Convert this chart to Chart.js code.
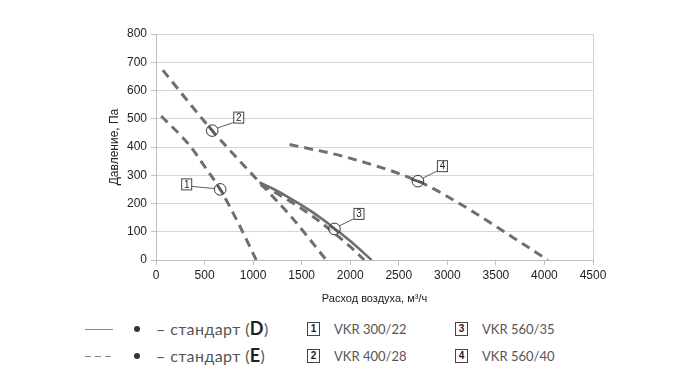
<!DOCTYPE html>
<html><head><meta charset="utf-8">
<script src="https://cdn.jsdelivr.net/npm/chart.js@4"></script>
<style>
html,body{margin:0;padding:0;background:#fff;width:700px;height:382px;overflow:hidden;font-family:"Liberation Sans",Arial,sans-serif;}
#wrap{position:absolute;left:0;top:0;width:700px;height:310px;}
.leg{position:absolute;font-family:Lato,"Noto Sans",sans-serif;color:#555;font-size:16px;white-space:nowrap;line-height:18px;}
.leg b{color:#222;font-size:18px;}
.box{position:absolute;width:11px;height:12px;border:1px solid #444;font-size:10px;line-height:12px;text-align:center;color:#222;font-family:"Liberation Sans",Arial,sans-serif;font-weight:bold;}
.ln{position:absolute;height:1px;width:28px;}
.dot{position:absolute;width:6px;height:6px;border-radius:3px;background:#333;}
</style></head><body>
<div id="wrap"><canvas id="c" width="700" height="310"></canvas></div>
<div id="legend"></div>
<script>
// ---- data ----
const curve1Q = [53, 345, 517, 661, 860, 1032];
const curve1P = [510, 406, 323, 250, 122, 0];
const curve2Q = [70, 579, 1066, 1400, 1753];
const curve2P = [672, 458, 275, 150, 0];
const curve3DQ = [1066, 1200, 1400, 1600, 1800, 2000, 2220];
const curve3DP = [275, 253, 215, 172, 122, 67, 0];
const curve3EQ = [1080, 1200, 1400, 1600, 1800, 2000, 2145];
const curve3EP = [265, 244, 204, 158, 105, 47, 0];
const curve4Q = [1375, 1959, 2697, 3160, 3675, 4035];
const curve4P = [409, 364, 279, 193, 80, 0];
const markerLabels = ['1', '2', '3', '4'];
const markerQ = [661, 579, 1838, 2697];
const markerP = [250, 458, 110, 279];
const xTicks = [0, 500, 1000, 1500, 2000, 2500, 3000, 3500, 4000, 4500];
const yTicks = [0, 100, 200, 300, 400, 500, 600, 700, 800];
const legendStd = ['стандарт (D)', 'стандарт (E)'];
const legendModels = ['VKR 300/22', 'VKR 400/28', 'VKR 560/35', 'VKR 560/40'];

const toPts = (q, p) => q.map((v, i) => ({x: v, y: p[i]}));
const lineCol = '#6f6f6f';
const dash = [9, 6];
function ds(q, p, dashed) {
  return {data: toPts(q, p), showLine: true, borderColor: lineCol, borderWidth: dashed ? 3 : 2.6,
    borderDash: dashed ? dash : [], pointRadius: 0, cubicInterpolationMode: 'monotone', fill: false};
}
const datasets = [ds(curve1Q, curve1P, true), ds(curve2Q, curve2P, true), ds(curve3DQ, curve3DP, false),
  ds(curve3EQ, curve3EP, true), ds(curve4Q, curve4P, true)];
const markerDs = [0, 1, 2, 4];
const boxOff = [[-34, -5], [26, -13], [24, -15], [24, -15]];

const markerPlugin = {
  id: 'markers',
  afterDatasetsDraw(chart) {
    const c = chart.ctx, xs = chart.scales.x, ys = chart.scales.y;
    markerQ.forEach((q, i) => {
      const px = xs.getPixelForValue(q), py = ys.getPixelForValue(markerP[i]);
      const d = chart.data.datasets[markerDs[i]].data;
      let k = 0; while (k < d.length - 2 && d[k + 1].x < q) k++;
      const ax = xs.getPixelForValue(d[k].x), ay = ys.getPixelForValue(d[k].y);
      const bx = xs.getPixelForValue(d[k + 1].x), by = ys.getPixelForValue(d[k + 1].y);
      const L = Math.hypot(bx - ax, by - ay), ux = (bx - ax) / L, uy = (by - ay) / L;
      c.save();
      c.beginPath(); c.arc(px, py, 5.8, 0, Math.PI * 2); c.fillStyle = 'rgba(255,255,255,0.6)'; c.fill();
      c.beginPath(); c.moveTo(px - ux * 5.5, py - uy * 5.5); c.lineTo(px + ux * 5.5, py + uy * 5.5);
      c.strokeStyle = '#555'; c.lineWidth = 2.6; c.stroke();
      c.beginPath(); c.arc(px, py, 5.8, 0, Math.PI * 2); c.strokeStyle = '#333'; c.lineWidth = 1; c.stroke();
      const bxc = px + boxOff[i][0], byc = py + boxOff[i][1];
      const dx = bxc - px, dy = byc - py, dl = Math.hypot(dx, dy);
      c.beginPath();
      c.moveTo(px + dx / dl * 6, py + dy / dl * 6);
      const ex = bxc + (dx > 0 ? -5 : 5), ey = byc + (dy < -8 ? 5 : 2);
      c.lineTo(ex, ey); c.strokeStyle = '#333'; c.lineWidth = 0.8; c.stroke();
      c.fillStyle = '#fff'; c.fillRect(bxc - 5, byc - 6, 10, 12);
      c.strokeStyle = '#444'; c.lineWidth = 1; c.strokeRect(bxc - 5 + 0.5, byc - 6 + 0.5, 10, 11);
      c.fillStyle = '#222'; c.font = '10px "Liberation Sans", Arial'; c.textAlign = 'center'; c.textBaseline = 'middle';
      c.fillText(markerLabels[i], bxc + 0.5, byc + 0.5);
      c.restore();
    });
  }
};

new Chart(document.getElementById('c'), {
  type: 'scatter',
  data: {datasets},
  options: {
    responsive: false, animation: false, devicePixelRatio: 1,
    layout: {padding: {top: 34, right: 107, left: 103, bottom: 0}},
    plugins: {legend: {display: false}, tooltip: {enabled: false}},
    scales: {
      x: {type: 'linear', min: 0, max: 4500,
        afterBuildTicks: s => { s.ticks = xTicks.map(v => ({value: v})); },
        afterFit: s => { s.height = 50; },
        grid: {color: ctx => ctx.tick && ctx.tick.value === 4500 ? '#d0d0d0' : 'rgba(0,0,0,0)', tickColor: '#c0c0c0', tickLength: 5, drawTicks: true},
        border: {color: '#bdbdbd'},
        ticks: {color: '#222', font: {family: '"Liberation Sans", Arial', size: 12}, padding: 3, maxRotation: 0, callback: v => String(v)},
        title: {display: true, text: 'Расход воздуха, м³/ч', color: '#222', font: {family: '"Liberation Sans", Arial', size: 11}, padding: {top: 8}}
      },
      y: {type: 'linear', min: 0, max: 800,
        afterBuildTicks: s => { s.ticks = yTicks.map(v => ({value: v})); },
        afterFit: s => { s.width = 53; },
        grid: {color: '#d6d6d6', tickColor: '#c0c0c0', tickLength: 5},
        border: {color: '#bdbdbd'},
        ticks: {color: '#222', font: {family: '"Liberation Sans", Arial', size: 12}, padding: 4, callback: v => String(v)},
        title: {display: true, text: 'Давление, Па', color: '#222', font: {family: '"Liberation Sans", Arial', size: 12}, padding: {bottom: 0}}
      }
    }
  },
  plugins: [markerPlugin]
});

// ---- legend below ----
const lg = document.getElementById('legend');
const rowsY = [329, 356];
legendStd.forEach((t, i) => {
  const y = rowsY[i];
  const ln = document.createElement('div'); ln.className = 'ln';
  ln.style.left = '85px'; ln.style.top = (y) + 'px';
  ln.style.background = i === 0 ? '#888' : 'repeating-linear-gradient(90deg,#888 0 6px,transparent 6px 10px)';
  lg.appendChild(ln);
  const dot = document.createElement('div'); dot.className = 'dot';
  dot.style.left = '134px'; dot.style.top = (y - 3) + 'px'; lg.appendChild(dot);
  const m = t.match(/^(.*\()(.)(\))$/);
  const tx = document.createElement('div'); tx.className = 'leg';
  tx.style.left = '156px'; tx.style.top = (y - 10) + 'px'; tx.style.letterSpacing = '0.4px';
  tx.innerHTML = '– ' + m[1] + '<b>' + m[2] + '</b>' + m[3];
  lg.appendChild(tx);
});
legendModels.forEach((t, i) => {
  const col = Math.floor(i / 2), row = i % 2;
  const y = rowsY[row];
  const bx = col === 0 ? 307 : 455;
  const b = document.createElement('div'); b.className = 'box';
  b.style.left = bx + 'px'; b.style.top = (y - 7) + 'px'; b.textContent = markerLabels[i];
  lg.appendChild(b);
  const tx = document.createElement('div'); tx.className = 'leg';
  tx.style.left = (bx + 27) + 'px'; tx.style.top = (y - 9) + 'px'; tx.style.fontSize = '13px';
  tx.textContent = t; lg.appendChild(tx);
});
</script>
</body></html>
